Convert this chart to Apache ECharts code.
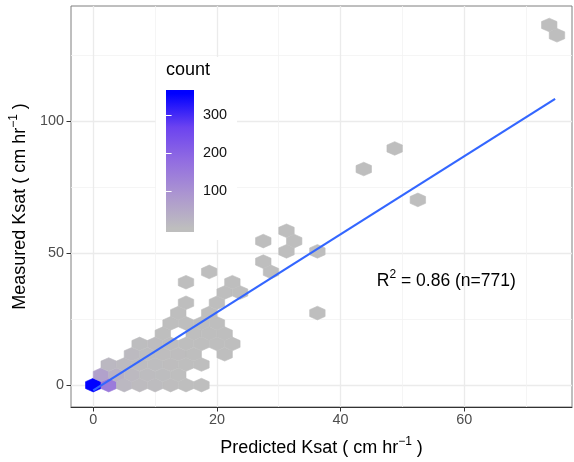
<!DOCTYPE html>
<html>
<head>
<meta charset="utf-8">
<script src="https://cdn.jsdelivr.net/npm/echarts@6/dist/echarts.min.js"></script>
<style>
  html, body { margin: 0; padding: 0; background: #fff; }
  #chart { width: 574px; height: 462px; }
</style>
</head>
<body>
<div id="chart"></div>
<script>
// Hexagonal bins: centre on predicted Ksat (x), centre on measured Ksat (y), samples in bin
const hexX = [
  0, 2.5, 5, 7.5, 10, 12.5, 15, 17.5,
  1.25, 3.75, 6.25, 8.75, 11.25, 13.75,
  2.5, 5, 7.5, 10, 12.5, 15, 17.5,
  6.25, 8.75, 11.25, 13.75, 16.25, 21.25,
  7.5, 10, 12.5, 15, 17.5, 20, 22.5,
  11.25, 16.25, 18.75, 21.25,
  12.5, 15, 17.5, 20,
  13.75, 18.75, 36.25,
  15, 20,
  21.25, 23.75,
  15, 22.5,
  18.75, 28.75,
  27.5,
  31.25, 36.25,
  27.5, 32.5,
  31.25,
  52.5, 43.75, 48.75, 75, 73.75
];
const hexY = [
  0, 0, 0, 0, 0, 0, 0, 0,
  3.9, 3.9, 3.9, 3.9, 3.9, 3.9,
  7.8, 7.8, 7.8, 7.8, 7.8, 7.8, 7.8,
  11.7, 11.7, 11.7, 11.7, 11.7, 11.7,
  15.6, 15.6, 15.6, 15.6, 15.6, 15.6, 15.6,
  19.5, 19.5, 19.5, 19.5,
  23.4, 23.4, 23.4, 23.4,
  27.3, 27.3, 27.3,
  31.2, 31.2,
  35.1, 35.1,
  39, 39,
  42.9, 42.9,
  46.8,
  50.7, 50.7,
  54.6, 54.6,
  58.5,
  70.2, 81.9, 89.7, 132.6, 136.5
];
const hexCount = [
  358, 150, 15, 8, 5, 3, 2, 1,
  66, 28, 12, 6, 4, 2,
  14, 9, 5, 4, 3, 2, 1,
  9, 4, 3, 3, 2, 1,
  4, 5, 3, 2, 2, 1, 1,
  2, 2, 1, 1,
  2, 1, 1, 1,
  1, 1, 1,
  1, 1,
  1, 1,
  1, 1,
  1, 1,
  1,
  1, 1,
  1, 1,
  1,
  1, 1, 1, 1, 1
];

// Least-squares fit over the predicted range
const fitX = [0, 74.7];
const fitY = [-2.0, 108.5];

const r2Text = '0.86';
const nSamples = 771;

// Axis breaks
const xTicks = [0, 20, 40, 60];
const xMinor = [10, 30, 50, 70];
const yTicks = [0, 50, 100];
const yMinor = [25, 75, 125];
const legendTicks = [100, 200, 300];
const countRange = [1, 358];

// ---------------------------------------------------------------
const FONT = '"Liberation Sans", Arial, Helvetica, sans-serif';
const HEX_W = 2.5;     // bin width along x (data units)
const HEX_ROW = 3.9;   // spacing between hexagon rows along y (data units)
const NBIN = 20;       // colour-bar resolution
// grey -> blue, interpolated in Lab space
const fillStops = ['#BEBEBE', '#AC96D0', '#926DE1', '#6C43F0', '#0000FF'];

const halfBin = (countRange[1] - countRange[0]) / (NBIN - 1) / 2;
const barMin = countRange[0] - halfBin;
const barMax = countRange[1] + halfBin;

const hexData = hexX.map((x, i) => [x, hexY[i], hexCount[i]]);
const fitData = fitX.map((x, i) => [x, fitY[i]]);

function renderHex(params, api) {
  const c = api.coord([api.value(0), api.value(1)]);
  const s = api.size([HEX_W, HEX_ROW]);
  const dx = s[0] / 2;
  const dy = s[1] / Math.sqrt(3) / 2 * 1.15;
  const col = api.visual('color');
  return {
    type: 'polygon',
    shape: { points: [
      [c[0] + dx, c[1] - dy], [c[0], c[1] - 2 * dy], [c[0] - dx, c[1] - dy],
      [c[0] - dx, c[1] + dy], [c[0], c[1] + 2 * dy], [c[0] + dx, c[1] + dy]
    ] },
    style: { fill: col, stroke: col, lineWidth: 0.6 }
  };
}

function renderBar(params, api) {
  const p0 = api.coord([0, barMin]);
  const p1 = api.coord([1, barMax]);
  const stops = fillStops.map((col, i) => ({
    offset: (0.5 + i / (fillStops.length - 1) * (NBIN - 1)) / NBIN,
    color: col
  }));
  return {
    type: 'rect',
    shape: { x: p0[0], y: p1[1], width: p1[0] - p0[0], height: p0[1] - p1[1] },
    style: { fill: new echarts.graphic.LinearGradient(0, 1, 0, 0, stops) }
  };
}

function renderNote(params, api) {
  const c = api.coord([api.value(0), api.value(1)]);
  return {
    type: 'text',
    x: c[0], y: c[1],
    style: {
      text: '{a|R}{s|2}{a| = ' + r2Text + ' (n=' + nSamples + ')}',
      align: 'center', verticalAlign: 'middle',
      rich: {
        a: { fontSize: 17.5, lineHeight: 24, fill: '#000', fontFamily: FONT },
        s: { fontSize: 12, lineHeight: 12, verticalAlign: 'top', fill: '#000', fontFamily: FONT }
      }
    }
  };
}

const titleRich = {
  a: { fontSize: 18, lineHeight: 24, color: '#000', fontFamily: FONT },
  s: { fontSize: 12, lineHeight: 12, verticalAlign: 'top', color: '#000', fontFamily: FONT }
};

const X_MIN = -3.6, X_MAX = 77.43, Y_MIN = -8.3, Y_MAX = 143.7;

const option = {
  animation: false,
  backgroundColor: '#fff',
  textStyle: { fontFamily: FONT },
  grid: [
    { left: 70, right: 2, top: 6, bottom: 54, show: true, borderColor: '#7f7f7f', borderWidth: 1, backgroundColor: '#fff' },
    { left: 166, top: 90, width: 28, height: 142 }
  ],
  xAxis: [
    {
      type: 'value', gridIndex: 0, min: X_MIN, max: X_MAX,
      axisLine: { show: true, onZero: false, lineStyle: { color: '#333', width: 1 } },
      axisTick: { show: true, customValues: xTicks, length: 4.5, lineStyle: { color: '#333' } },
      axisLabel: { customValues: xTicks, margin: 6, color: '#4d4d4d', fontSize: 14.4, fontFamily: FONT },
      splitLine: { show: true, lineStyle: { color: '#EBEBEB', width: 1.3 } },
      name: '{a|Predicted Ksat ( cm hr}{s|\u22121}{a| )}',
      nameLocation: 'middle', nameGap: 29,
      nameTextStyle: { rich: titleRich }
    },
    {
      type: 'value', gridIndex: 0, min: X_MIN, max: X_MAX, position: 'top',
      axisLine: { show: false }, axisTick: { show: false, customValues: xMinor },
      axisLabel: { show: false, customValues: xMinor },
      splitLine: { show: true, lineStyle: { color: '#F2F2F2', width: 0.8 } }
    },
    { type: 'value', gridIndex: 1, min: 0, max: 1, show: false }
  ],
  yAxis: [
    {
      type: 'value', gridIndex: 0, min: Y_MIN, max: Y_MAX,
      axisLine: { show: false, onZero: false },
      axisTick: { show: true, customValues: yTicks, length: 4.5, lineStyle: { color: '#333' } },
      axisLabel: { customValues: yTicks, margin: 7, color: '#4d4d4d', fontSize: 14.4, fontFamily: FONT },
      splitLine: { show: true, lineStyle: { color: '#EBEBEB', width: 1.3 } },
      name: '{a|Measured Ksat ( cm hr}{s|\u22121}{a| )}',
      nameLocation: 'middle', nameGap: 39, nameRotate: 90,
      nameTextStyle: { rich: titleRich }
    },
    {
      type: 'value', gridIndex: 0, min: Y_MIN, max: Y_MAX, position: 'right',
      axisLine: { show: false }, axisTick: { show: false, customValues: yMinor },
      axisLabel: { show: false, customValues: yMinor },
      splitLine: { show: true, lineStyle: { color: '#F2F2F2', width: 0.8 } }
    },
    {
      type: 'value', gridIndex: 1, min: barMin, max: barMax, position: 'right', z: 10,
      axisLine: { show: false },
      axisTick: { show: true, inside: true, length: 5.6, customValues: legendTicks, lineStyle: { color: '#fff', width: 1 } },
      axisLabel: { customValues: legendTicks, margin: 9, color: '#111', fontSize: 14.4, fontFamily: FONT },
      splitLine: { show: false }
    },
    {
      type: 'value', gridIndex: 1, min: barMin, max: barMax, position: 'left', z: 10,
      axisLine: { show: false },
      axisTick: { show: true, inside: true, length: 5.6, customValues: legendTicks, lineStyle: { color: '#fff', width: 1 } },
      axisLabel: { show: false },
      splitLine: { show: false }
    }
  ],
  visualMap: {
    type: 'continuous', show: false, seriesIndex: 0, dimension: 2,
    min: countRange[0], max: countRange[1],
    inRange: { color: fillStops }
  },
  graphic: [
    { type: 'rect', shape: { x: 156, y: 57, width: 81, height: 183 }, style: { fill: '#fff' }, z: 1, silent: true },
    { type: 'text', x: 166, y: 61, style: { text: 'count', fontSize: 18, fill: '#000', fontFamily: FONT }, z: 3, silent: true }
  ],
  series: [
    {
      type: 'custom', name: 'count', xAxisIndex: 0, yAxisIndex: 0,
      data: hexData, encode: { x: 0, y: 1 }, renderItem: renderHex, z: 2, silent: true
    },
    {
      type: 'line', xAxisIndex: 0, yAxisIndex: 0, data: fitData,
      symbol: 'none', lineStyle: { color: '#3366FF', width: 2.2 }, z: 3, silent: true
    },
    {
      type: 'custom', xAxisIndex: 0, yAxisIndex: 0, data: [[57.1, 39.5]],
      encode: { x: 0, y: 1 }, renderItem: renderNote, z: 4, silent: true
    },
    {
      type: 'custom', xAxisIndex: 2, yAxisIndex: 2, data: [[0, 0]],
      renderItem: renderBar, z: 2, silent: true
    }
  ]
};

const chart = echarts.init(document.getElementById('chart'));
chart.setOption(option);
</script>
</body>
</html>
